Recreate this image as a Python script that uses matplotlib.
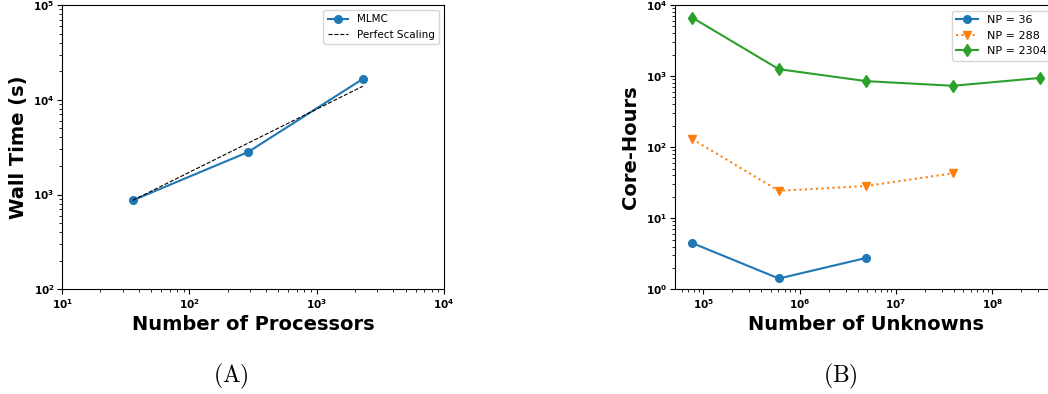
# Scaling results: wall time (A) and core-hours (B)

import numpy as np
import matplotlib.pyplot as plt

plt.rcParams['mathtext.fontset'] = 'cm'



# Data ........................................................................

# Panel A: wall time against number of processors
processors = [36, 288, 2304]
wall_time = [870, 2800, 16600]
perfect_scaling = [870, 3480, 13900]

# Panel B: core-hours against number of unknowns
unknowns = [7.7e4, 6.1e5, 4.9e6, 3.9e7, 3.1e8]
core_hours_36 = [4.47, 1.42, 2.76]
core_hours_288 = [130, 24.3, 28.4, 42.9]
core_hours_2304 = [6640, 1250, 850, 730, 940]



# Figure ......................................................................

fig = plt.figure(figsize = (10.48, 3.94), dpi = 100)
ax1 = fig.add_axes([0.0592, 0.2657, 0.3645, 0.7216])
ax2 = fig.add_axes([0.644, 0.2657, 0.3645, 0.7216])

label_font = dict(fontsize = 14, fontweight = "bold")

# Panel A
ax1.loglog(processors, wall_time, marker = "o", markersize = 5.5, color = "C0", label = "MLMC")
ax1.loglog(processors, perfect_scaling, "k--", linewidth = 0.8, label = "Perfect Scaling")
ax1.set_xlim(10, 1e4)
ax1.set_ylim(1e2, 1e5)
ax1.set_xlabel("Number of Processors", labelpad = 3, **label_font)
ax1.set_ylabel("Wall Time (s)", **label_font)
ax1.legend(loc = "upper right", fontsize = 7.5)

# Panel B
ax2.loglog(unknowns[:3], core_hours_36, marker = "o", markersize = 5.5, color = "C0", label = "NP = 36")
ax2.loglog(unknowns[:4], core_hours_288, marker = "v", markersize = 5.5, linestyle = ":", color = "C1", label = "NP = 288")
ax2.loglog(unknowns, core_hours_2304, marker = "d", markersize = 6, color = "C2", label = "NP = 2304")
ax2.set_ylim(1, 1e4)
ax2.set_xlabel("Number of Unknowns", labelpad = 3, **label_font)
ax2.set_ylabel("Core-Hours", **label_font)
ax2.legend(loc = "upper right", fontsize = 8)

for ax in (ax1, ax2):
    ax.tick_params(labelsize = 7.5, pad = 2)
    for lab in ax.get_xticklabels() + ax.get_yticklabels():
        lab.set_fontweight("bold")

# Sub-figure captions
fig.text(0.2202, 0.03, r"$\mathrm{(A)}$", ha = "center", fontsize = 17)
fig.text(0.8015, 0.03, r"$\mathrm{(B)}$", ha = "center", fontsize = 17)

plt.savefig("out.png", dpi = 100)
